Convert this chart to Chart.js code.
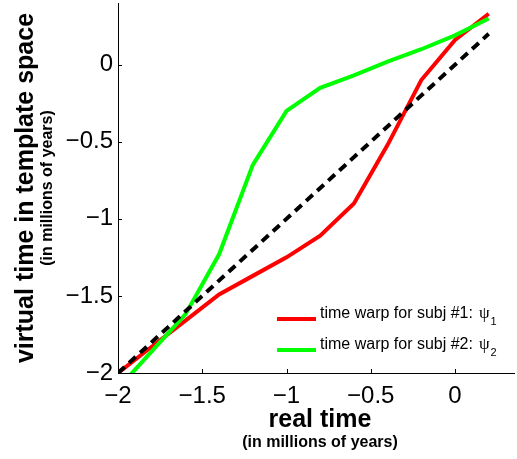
<!DOCTYPE html>
<html>
<head>
<meta charset="utf-8">
<script src="https://cdn.jsdelivr.net/npm/chart.js@4.4.0/dist/chart.umd.min.js"></script>
<style>
  html, body { margin: 0; padding: 0; background: #fff; }
  #wrap { width: 517px; height: 459px; }
</style>
</head>
<body>
<div id="wrap"><canvas id="warpChart" width="517" height="459"></canvas></div>
<script>
// real time samples (millions of years)
const realTime = [-2, -1.8, -1.6, -1.4, -1.2, -1.0, -0.8, -0.6, -0.4, -0.2, 0, 0.2];
// virtual time for each subject
const warpSubj1 = [-2, -1.83, -1.66, -1.49, -1.37, -1.25, -1.11, -0.9, -0.52, -0.1, 0.16, 0.33];
const warpSubj2 = [-2.1, -1.86, -1.62, -1.23, -0.65, -0.3, -0.15, -0.07, 0.02, 0.1, 0.19, 0.3];
// identity (no warp), dashed
const identityX = [-2, 0.2];
const identityY = [-2, 0.2];

const legendNames = ['time warp for subj #1:', 'time warp for subj #2:'];
const legendSubs = ['1', '2'];
const xTicks = [-2, -1.5, -1, -0.5, 0];
const yTicks = [-2, -1.5, -1, -0.5, 0];

function toPoints(xs, ys) {
    return xs.map((x, i) => ({ x: x, y: ys[i] }));
}

function fmtTick(v) {
    return v < 0 ? '\u2212' + Math.abs(v) : String(v);
}

// small tick marks pointing into the plot, like matlab
const insideTicks = {
    id: 'insideTicks',
    afterDraw(chart) {
        const { ctx, chartArea, scales } = chart;
        ctx.save();
        ctx.strokeStyle = '#000';
        ctx.lineWidth = 1;
        ctx.beginPath();
        scales.x.ticks.forEach(t => {
            const px = Math.round(scales.x.getPixelForValue(t.value)) + 0.5;
            ctx.moveTo(px, chartArea.bottom);
            ctx.lineTo(px, chartArea.bottom - 4);
        });
        scales.y.ticks.forEach(t => {
            const py = Math.round(scales.y.getPixelForValue(t.value)) + 0.5;
            ctx.moveTo(chartArea.left, py);
            ctx.lineTo(chartArea.left + 4, py);
        });
        ctx.stroke();
        ctx.restore();
    }
};

// two-line axis titles (bold main + smaller units line)
const axisTitles = {
    id: 'axisTitles',
    afterDraw(chart) {
        const { ctx, chartArea } = chart;
        const cx = (chartArea.left + chartArea.right) / 2 + 4;
        const cy = (chartArea.top + chartArea.bottom) / 2;
        ctx.save();
        ctx.fillStyle = '#000';
        ctx.textAlign = 'center';
        ctx.textBaseline = 'alphabetic';
        ctx.font = 'bold 25px "Liberation Sans"';
        ctx.fillText('real time', cx, 427);
        ctx.font = 'bold 16px "Liberation Sans"';
        ctx.fillText('(in millions of years)', cx, 447);

        ctx.translate(33, cy);
        ctx.rotate(-Math.PI / 2);
        ctx.font = 'bold 25px "Liberation Sans"';
        ctx.fillText('virtual time in template space', 0, 0);
        ctx.font = 'bold 16px "Liberation Sans"';
        ctx.fillText('(in millions of years)', 0, 19);
        ctx.restore();
    }
};

// legend box in lower right, with psi subscripts
const warpLegend = {
    id: 'warpLegend',
    afterDraw(chart) {
        const ctx = chart.ctx;
        const sets = chart.data.datasets.filter(d => legendNames.includes(d.label));
        ctx.save();
        sets.forEach((ds, i) => {
            const ly = 319 + i * 31;
            ctx.strokeStyle = ds.borderColor;
            ctx.lineWidth = 4;
            ctx.beginPath();
            ctx.moveTo(277, ly);
            ctx.lineTo(316, ly);
            ctx.stroke();

            ctx.fillStyle = '#000';
            ctx.textAlign = 'left';
            ctx.textBaseline = 'alphabetic';
            ctx.font = '16px "Liberation Sans"';
            ctx.fillText(ds.label, 320, ly - 1);
            let x = 320 + ctx.measureText(ds.label).width + 6;
            ctx.font = '17px "Liberation Serif"';
            ctx.fillText('\u03c8', x, ly - 1);
            x += ctx.measureText('\u03c8').width + 1;
            ctx.font = '11px "Liberation Sans"';
            ctx.fillText(legendSubs[i], x, ly + 6);
        });
        ctx.restore();
    }
};

const ctx = document.getElementById('warpChart').getContext('2d');
const warpChart = new Chart(ctx, {
    type: 'line',
    data: {
        datasets: [
            {
                label: 'identity',
                data: toPoints(identityX, identityY),
                borderColor: '#000000',
                borderWidth: 4,
                borderDash: [9, 6],
                order: 0
            },
            {
                label: legendNames[0],
                data: toPoints(realTime, warpSubj1),
                borderColor: '#ff0000',
                borderWidth: 4,
                order: 2
            },
            {
                label: legendNames[1],
                data: toPoints(realTime, warpSubj2),
                borderColor: '#00ff00',
                borderWidth: 4,
                order: 1
            }
        ]
    },
    options: {
        responsive: false,
        animation: false,
        layout: { padding: { top: 3, right: 3, left: 0, bottom: 0 } },
        elements: {
            point: { radius: 0 },
            line: { tension: 0, fill: false, borderCapStyle: 'butt', borderJoinStyle: 'miter' }
        },
        datasets: { line: { clip: 0 } },
        plugins: {
            legend: { display: false },
            tooltip: { enabled: false }
        },
        scales: {
            x: {
                type: 'linear',
                min: -2,
                max: 0.35,
                afterFit: s => {
                    s.height = 86;
                    s.paddingLeft = 0;
                    s.paddingRight = 0;
                },
                afterBuildTicks: s => { s.ticks = xTicks.map(v => ({ value: v })); },
                grid: { drawOnChartArea: false, drawTicks: false },
                border: { display: true, color: '#000', width: 1 },
                ticks: {
                    color: '#000',
                    font: { family: 'Liberation Sans', size: 24 },
                    padding: 9,
                    maxRotation: 0,
                    autoSkip: false,
                    callback: fmtTick
                }
            },
            y: {
                type: 'linear',
                min: -2,
                max: 0.4,
                afterFit: s => {
                    s.width = 118;
                    s.paddingTop = 0;
                    s.paddingBottom = 0;
                },
                afterBuildTicks: s => { s.ticks = yTicks.map(v => ({ value: v })); },
                grid: { drawOnChartArea: false, drawTicks: false },
                border: { display: true, color: '#000', width: 1 },
                ticks: {
                    color: '#000',
                    font: { family: 'Liberation Sans', size: 24 },
                    padding: 5,
                    autoSkip: false,
                    callback: fmtTick
                }
            }
        }
    },
    plugins: [insideTicks, axisTitles, warpLegend]
});
</script>
</body>
</html>
